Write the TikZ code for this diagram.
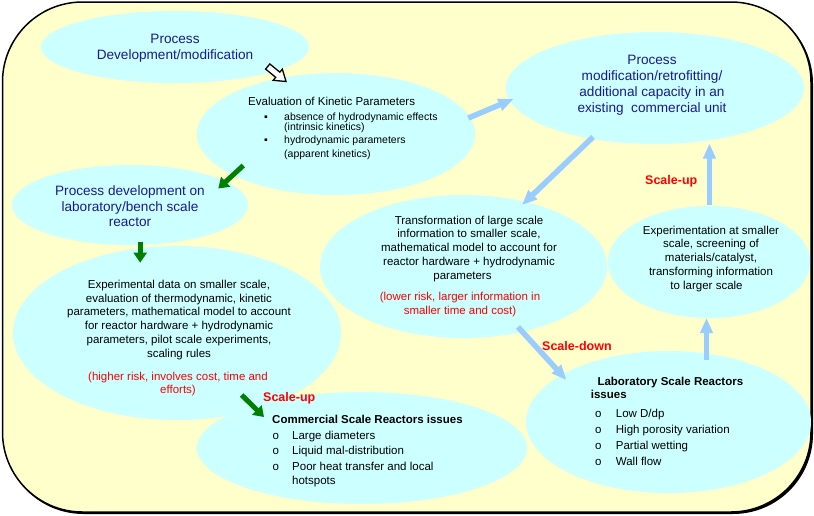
\documentclass[tikz,border=0pt]{standalone}
\usepackage{fontspec}
\setmainfont{Liberation Sans}
\usetikzlibrary{shapes.geometric,arrows.meta}
\definecolor{bgyellow}{HTML}{FFFFCC}
\definecolor{ellcyan}{HTML}{CCFFFF}
\definecolor{titleblue}{HTML}{1A1A8F}
\definecolor{arrowblue}{HTML}{99CCFF}
\definecolor{arrowgreen}{HTML}{007F00}
\definecolor{riskred}{HTML}{FF0000}
\begin{document}
\begin{tikzpicture}[x=1pt,y=-1pt,
  ell/.style={ellipse, fill=ellcyan, draw=none, inner sep=0pt, outer sep=0pt},
  ttl/.style={font=\fontsize{13.6}{16}\selectfont, text=titleblue, inner sep=0pt, anchor=base},
  bodytxt/.style={font=\fontsize{11.5}{13.8}\selectfont, inner sep=0pt, anchor=base},
  smalltxt/.style={font=\fontsize{10.5}{13}\selectfont, inner sep=0pt, anchor=base west},
  itemtxt/.style={font=\fontsize{11.5}{14}\selectfont, inner sep=0pt, anchor=base west},
  boldtxt/.style={font=\bfseries\fontsize{11.5}{14}\selectfont, inner sep=0pt, anchor=base west},
  risk/.style={bodytxt, text=riskred},
  scalelbl/.style={font=\bfseries\fontsize{12.5}{15}\selectfont, text=riskred, inner sep=0pt, anchor=base west},
  barrow/.style={draw=arrowblue, line width=5.5pt, -{Triangle[length=15pt,width=12pt]}},
  garrow/.style={draw=arrowgreen, line width=5pt, -{Triangle[length=10pt,width=13pt]}},
  hollow/.style={draw=black, fill=white, line width=1.3pt, line join=miter}
]
\useasboundingbox (0,0) rectangle (814,515);
% background panel with shadow
\fill[black, rounded corners=80pt] (3.5,3.5) rectangle (813,514);
\filldraw[fill=bgyellow, draw=black, line width=1.5pt, rounded corners=80pt] (2.5,2) rectangle (811,512);

% ellipses
\node[ell, minimum width=268pt, minimum height=72pt] (e1) at (175,47) {};
\node[ell, minimum width=278pt, minimum height=122pt] (e2) at (336,134) {};
\node[ell, minimum width=298pt, minimum height=112pt] (e3) at (655,88) {};
\node[ell, minimum width=236pt, minimum height=80pt] (e4) at (130,205) {};
\node[ell, minimum width=328pt, minimum height=174pt] (e5) at (177,333) {};
\node[ell, minimum width=287pt, minimum height=143pt] (e6) at (463.5,266.5) {};
\node[ell, minimum width=202pt, minimum height=112pt] (e7) at (709,262) {};
\node[ell, minimum width=330pt, minimum height=112pt] (e8) at (362,448) {};
\node[ell, minimum width=285pt, minimum height=142pt] (e9) at (668.5,422) {};

% titles
\node[ttl] (t1) at (175,43) {\begin{tabular}[t]{@{}c@{}}Process\\Development/modification\end{tabular}};
\node[ttl, font=\fontsize{13.6}{16.3}\selectfont] (t3) at (652,64) {\begin{tabular}[t]{@{}c@{}}Process\\modification/retrofitting/\\additional capacity in an\\existing~~commercial unit\end{tabular}};
\node[ttl, font=\fontsize{13.6}{15.5}\selectfont] (t4) at (130,195.7) {\begin{tabular}[t]{@{}c@{}}Process development on\\laboratory/bench scale\\reactor\end{tabular}};

% evaluation of kinetic parameters
\node[bodytxt, anchor=base west] (t2) at (248,105) {Evaluation of Kinetic Parameters};
\node[smalltxt, anchor=base] (t2p) at (266,120) {▪};
\node[smalltxt] (t2a) at (284,120) {absence of hydrodynamic effects};
\node[smalltxt] (t2b) at (284,130.5) {(intrinsic kinetics)};
\node[smalltxt, anchor=base] (t2q) at (266,143.5) {▪};
\node[smalltxt] (t2c) at (284,143.5) {hydrodynamic parameters};
\node[smalltxt] (t2d) at (284,157) {(apparent kinetics)};

% experimental data
\node[bodytxt] (t5) at (179,288.3) {\begin{tabular}[t]{@{}c@{}}Experimental data on smaller scale,\\evaluation of thermodynamic, kinetic\\parameters, mathematical model to account\\for reactor hardware + hydrodynamic\\parameters, pilot scale experiments,\\scaling rules\end{tabular}};
\node[risk] (t5r) at (178,380) {\begin{tabular}[t]{@{}c@{}}(higher risk, involves cost, time and\\efforts)\end{tabular}};

% transformation
\node[bodytxt] (t6) at (469,224) {\begin{tabular}[t]{@{}c@{}}Transformation of large scale\\information to smaller scale,\\mathematical model to account for\\reactor hardware + hydrodynamic\\parameters\hspace*{13pt}\end{tabular}};
\node[risk, font=\fontsize{11.5}{13.3}\selectfont] (t6r) at (460,300.7) {\begin{tabular}[t]{@{}c@{}}(lower risk, larger information in\\smaller time and cost)\end{tabular}};

% experimentation at smaller scale
\node[bodytxt] (t7) at (711,234) {\begin{tabular}[t]{@{}c@{}}Experimentation at smaller\\scale, screening of\\materials/catalyst,\\transforming information\\to larger scale\hspace*{9pt}\end{tabular}};

% commercial scale reactors
\node[boldtxt] (t8) at (272,423.3) {Commercial Scale Reactors issues};
\node[itemtxt] (t8o1) at (272.5,439) {o};
\node[itemtxt] (t8a) at (292,439) {Large diameters};
\node[itemtxt] (t8o2) at (272.5,454.3) {o};
\node[itemtxt] (t8b) at (292,454.3) {Liquid mal-distribution};
\node[itemtxt] (t8o3) at (272.5,470.7) {o};
\node[itemtxt] (t8c) at (292,470.7) {Poor heat transfer and local};
\node[itemtxt] (t8d) at (292,484.3) {hotspots};

% laboratory scale reactors
\node[boldtxt] (t9) at (597.3,385) {Laboratory Scale Reactors};
\node[boldtxt] (t9b) at (590.7,398.3) {issues};
\node[itemtxt] (t9o1) at (595,417.3) {o};
\node[itemtxt] (t9i1) at (615.7,417.3) {Low D/dp};
\node[itemtxt] (t9o2) at (595,433.3) {o};
\node[itemtxt] (t9i2) at (615.7,433.3) {High porosity variation};
\node[itemtxt] (t9o3) at (595,449.3) {o};
\node[itemtxt] (t9i3) at (615.7,449.3) {Partial wetting};
\node[itemtxt] (t9o4) at (595,465) {o};
\node[itemtxt] (t9i4) at (615.7,465) {Wall flow};

% scale labels
\node[scalelbl] (s1) at (645,184.3) {Scale-up};
\node[scalelbl] (s2) at (263,401.7) {Scale-up};
\node[scalelbl] (s3) at (542,350.7) {Scale-down};

% arrow end points
\coordinate (h0) at (267.7,66.5);
\coordinate (g1s) at (243.3,165.5);
\coordinate (g1e) at (218.3,188.5);
\coordinate (g2s) at (140.2,241.7);
\coordinate (g2e) at (140.2,262.7);
\coordinate (g3s) at (241.7,395);
\coordinate (g3e) at (264,417);
\coordinate (b1s) at (468.3,118);
\coordinate (b1e) at (513.5,99);
\coordinate (b2s) at (593,137);
\coordinate (b2e) at (522,205);
\coordinate (b3s) at (518,327);
\coordinate (b3e) at (566.5,380);
\coordinate (b4s) at (706.5,359.5);
\coordinate (b4e) at (706.5,318);
\coordinate (b5s) at (709.5,205);
\coordinate (b5e) at (709.5,143.5);

% hollow arrow
\begin{scope}[shift={(h0)}, rotate=-39.3]
  \filldraw[hollow] (0,-3.3) -- (13,-3.3) -- (13,-7.2) -- (23.7,0) -- (13,7.2) -- (13,3.3) -- (0,3.3) -- cycle;
\end{scope}

% green arrows
\draw[garrow] (g1s) -- (g1e);
\draw[garrow] (g2s) -- (g2e);
\draw[garrow] (g3s) -- (g3e);

% blue arrows
\draw[barrow] (b1s) -- (b1e);
\draw[barrow] (b2s) -- (b2e);
\draw[barrow] (b3s) -- (b3e);
\draw[barrow] (b4s) -- (b4e);
\draw[barrow] (b5s) -- (b5e);
\end{tikzpicture}
\end{document}
